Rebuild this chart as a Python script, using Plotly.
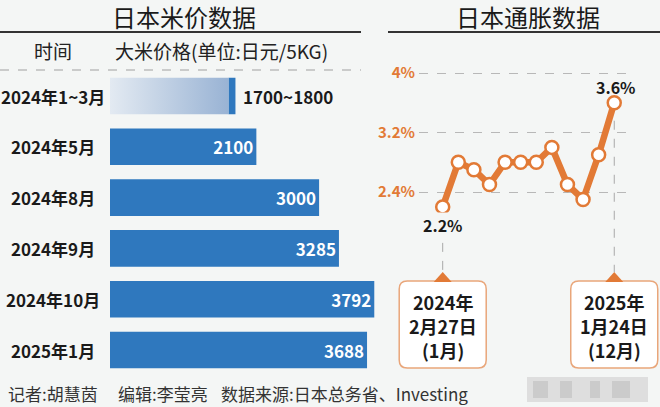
import plotly.graph_objects as go

# ---------------- data ----------------
rice_periods = ["2024年1~3月", "2024年5月", "2024年8月", "2024年9月", "2024年10月", "2025年1月"]
rice_low = [1700, 2100, 3000, 3285, 3792, 3688]
rice_high = [1800, 2100, 3000, 3285, 3792, 3688]

cpi_months = ["2024-01", "2024-02", "2024-03", "2024-04", "2024-05", "2024-06",
              "2024-07", "2024-08", "2024-09", "2024-10", "2024-11", "2024-12"]
cpi_values = [2.2, 2.8, 2.7, 2.5, 2.8, 2.8, 2.8, 3.0, 2.5, 2.3, 2.9, 3.6]
cpi_tickvals = [2.4, 3.2, 4.0]
cpi_ticktext = ["2.4%", "3.2%", "4%"]
callout_index = [0, 11]
callout_year = ["2024年", "2025年"]
callout_date = ["2月27日", "1月24日"]
callout_month = ["(1月)", "(12月)"]

left_title = "日本米价数据"
right_title = "日本通胀数据"
col_time = "时间"
col_price = "大米价格(单位:日元/5KG)"
footer_parts = ["记者:胡慧茵", "编辑:李莹亮", "数据来源:日本总务省、Investing"]

# ---------------- styling ----------------
W, H = 660, 407
BG = "#F4F6F5"
BLUE = "#2F78BE"
ORANGE = "#E27A36"
FONT = "Noto Sans CJK SC"
TXT = "#1A1A1A"


def X(px):
    return px / W


def Y(py):
    return 1 - py / H


# left panel geometry
BAR_X0, BAR_X1 = 110, 380
BAR_RANGE_MAX = 3874
ROW_TOP, ROW_BOT = 70.6, 375.4
BAR_W = 0.72

# right panel geometry
R_X0, R_X1 = 419, 630
R_XRANGE = [-1.52, 12.01]
R_Y_TOP, R_Y_BOT = 60, 272
R_YRANGE = [1.3247, 4.1747]


def rx_px(i):
    return R_X0 + (i - R_XRANGE[0]) * (R_X1 - R_X0) / (R_XRANGE[1] - R_XRANGE[0])


fig = go.Figure()

rows = list(range(len(rice_periods)))
single_rows = [i for i in rows if rice_low[i] == rice_high[i]]
range_rows = [i for i in rows if rice_low[i] != rice_high[i]]

# gradient part of range rows
for i in range_rows:
    h = BAR_W / 2
    fig.add_trace(go.Scatter(
        x=[0, rice_low[i], rice_low[i], 0, 0],
        y=[i - h, i - h, i + h, i + h, i - h],
        mode="lines", line=dict(width=0), fill="toself",
        fillgradient=dict(type="horizontal",
                          colorscale=[[0, "#E3EAF2"], [1, "#99B3D4"]]),
        hoverinfo="skip", showlegend=False, xaxis="x", yaxis="y"))

# solid part of range rows
fig.add_trace(go.Bar(
    y=range_rows,
    x=[rice_high[i] - rice_low[i] for i in range_rows],
    base=[rice_low[i] for i in range_rows],
    orientation="h", width=BAR_W, marker=dict(color=BLUE, line=dict(width=0)),
    hoverinfo="skip", showlegend=False, xaxis="x", yaxis="y"))

# single value bars
fig.add_trace(go.Bar(
    y=single_rows,
    x=[rice_high[i] for i in single_rows],
    orientation="h", width=BAR_W, marker=dict(color=BLUE, line=dict(width=0)),
    text=[str(rice_high[i]) for i in single_rows],
    textposition="inside", insidetextanchor="end",
    textfont=dict(family=FONT, size=17, color="white", weight="bold"),
    hoverinfo="skip", showlegend=False, xaxis="x", yaxis="y"))

# CPI line
fig.add_trace(go.Scatter(
    x=cpi_months, y=cpi_values, mode="lines+markers",
    line=dict(color=ORANGE, width=6.5),
    marker=dict(size=13, color="white", line=dict(color=ORANGE, width=2.5)),
    hoverinfo="skip", showlegend=False, xaxis="x2", yaxis="y2", cliponaxis=False))

annotations = []
shapes = []

# row labels (centered)
for i, lab in enumerate(rice_periods):
    annotations.append(dict(x=X(53), xref="paper", y=i, yref="y", text=lab,
                            showarrow=False, xanchor="center", yanchor="middle",
                            font=dict(family=FONT, size=17, color=TXT, weight="bold")))
# range labels
for i in range_rows:
    annotations.append(dict(x=rice_high[i], xref="x", y=i, yref="y",
                            text=f"{rice_low[i]}~{rice_high[i]}", showarrow=False,
                            xanchor="left", yanchor="middle", xshift=6,
                            font=dict(family=FONT, size=17, color=TXT, weight="bold")))

# titles and headers
annotations += [
    dict(x=X(184), y=Y(17), xref="paper", yref="paper", text=left_title, showarrow=False,
         xanchor="center", yanchor="middle", font=dict(family=FONT, size=24, color=TXT)),
    dict(x=X(528), y=Y(17), xref="paper", yref="paper", text=right_title, showarrow=False,
         xanchor="center", yanchor="middle", font=dict(family=FONT, size=24, color=TXT)),
    dict(x=X(53), y=Y(50), xref="paper", yref="paper", text=col_time, showarrow=False,
         xanchor="center", yanchor="middle", font=dict(family=FONT, size=19, color="#222")),
    dict(x=X(113), y=Y(50), xref="paper", yref="paper", text=col_price, showarrow=False,
         xanchor="left", yanchor="middle", font=dict(family=FONT, size=19, color="#222")),
]
for xp, t in zip([6, 116, 219], footer_parts):
    annotations.append(dict(x=X(xp), y=Y(393), xref="paper", yref="paper", text=t,
                            showarrow=False, xanchor="left", yanchor="middle",
                            font=dict(family=FONT, size=17, color="#333")))

# CPI value labels for first and last
annotations.append(dict(x=cpi_months[0], y=cpi_values[0], xref="x2", yref="y2",
                        text=f"{cpi_values[0]}%", showarrow=False, yshift=-18,
                        xanchor="center", yanchor="middle", bgcolor=BG, borderpad=0,
                        font=dict(family=FONT, size=16, color=TXT, weight="bold")))
annotations.append(dict(x=cpi_months[-1], y=cpi_values[-1], xref="x2", yref="y2",
                        text=f"{cpi_values[-1]}%", showarrow=False, yshift=16, xshift=2,
                        xanchor="center", yanchor="middle",
                        font=dict(family=FONT, size=16, color=TXT, weight="bold")))

# header lines
shapes += [
    dict(type="line", xref="paper", yref="paper", x0=X(0), x1=X(361), y0=Y(32), y1=Y(32),
         line=dict(color="#333", width=2)),
    dict(type="line", xref="paper", yref="paper", x0=X(388), x1=X(660), y0=Y(32), y1=Y(32),
         line=dict(color="#333", width=2)),
    dict(type="line", xref="paper", yref="paper", x0=X(0), x1=X(361), y0=Y(70), y1=Y(70),
         line=dict(color="#A0A0A0", width=1, dash="dash")),
]


def rounded_rect(x0, y0, x1, y1, r):
    # pixel coords -> paper path
    pts = (f"M {X(x0 + r)},{Y(y0)} L {X(x1 - r)},{Y(y0)} "
           f"Q {X(x1)},{Y(y0)} {X(x1)},{Y(y0 + r)} L {X(x1)},{Y(y1 - r)} "
           f"Q {X(x1)},{Y(y1)} {X(x1 - r)},{Y(y1)} L {X(x0 + r)},{Y(y1)} "
           f"Q {X(x0)},{Y(y1)} {X(x0)},{Y(y1 - r)} L {X(x0)},{Y(y0 + r)} "
           f"Q {X(x0)},{Y(y0)} {X(x0 + r)},{Y(y0)} Z")
    return pts


# callouts
for k, idx in enumerate(callout_index):
    cx = rx_px(idx)
    shapes.append(dict(type="line", xref="x2", yref="y2",
                       x0=cpi_months[idx], x1=cpi_months[idx],
                       y0=cpi_values[idx], y1=R_YRANGE[0],
                       line=dict(color="#A8A8A8", width=1, dash="dash"), layer="below"))
    shapes.append(dict(type="path", xref="paper", yref="paper",
                       path=rounded_rect(cx - 43.5, 281, cx + 43.5, 368, 8),
                       fillcolor="white", line=dict(color="#E9A67A", width=1.5)))
    shapes.append(dict(type="path", xref="paper", yref="paper",
                       path=f"M {X(cx - 9)},{Y(282)} L {X(cx)},{Y(272)} L {X(cx + 9)},{Y(282)} Z",
                       fillcolor=ORANGE, line=dict(width=0)))
    for py, line_txt in zip([302, 326, 350],
                            [callout_year[k], callout_date[k], callout_month[k]]):
        annotations.append(dict(x=X(cx), y=Y(py), xref="paper", yref="paper", text=line_txt,
                                showarrow=False, xanchor="center", yanchor="middle",
                                font=dict(family=FONT, size=18, color=TXT, weight="bold")))

# blurred watermark block
shapes.append(dict(type="rect", xref="paper", yref="paper", x0=X(527), x1=X(648),
                   y0=Y(377), y1=Y(402), fillcolor="#D9D9D9", line=dict(width=0),
                   opacity=0.85))
for a, b in [(533, 548), (560, 572), (590, 600), (612, 630)]:
    shapes.append(dict(type="rect", xref="paper", yref="paper", x0=X(a), x1=X(b),
                       y0=Y(381), y1=Y(398), fillcolor="#C6C6C6", line=dict(width=0),
                       opacity=0.8))

fig.update_layout(
    width=W, height=H, margin=dict(l=0, r=0, t=0, b=0),
    paper_bgcolor=BG, plot_bgcolor=BG,
    barmode="overlay", showlegend=False,
    font=dict(family=FONT),
    xaxis=dict(domain=[X(BAR_X0), X(BAR_X1)], range=[0, BAR_RANGE_MAX], visible=False,
               anchor="y"),
    yaxis=dict(domain=[Y(ROW_BOT), Y(ROW_TOP)], range=[len(rice_periods) - 0.5, -0.5],
               visible=False, anchor="x"),
    xaxis2=dict(domain=[X(R_X0), X(R_X1)], range=R_XRANGE, visible=False, anchor="y2",
                type="category", categoryorder="array", categoryarray=cpi_months),
    yaxis2=dict(domain=[Y(R_Y_BOT), Y(R_Y_TOP)], range=R_YRANGE, anchor="x2",
                tickvals=cpi_tickvals, ticktext=cpi_ticktext, showgrid=True,
                gridcolor="#B8B8B8", griddash="dash", gridwidth=1, zeroline=False,
                showline=False, ticks="", ticklabelstandoff=3,
                tickfont=dict(family=FONT, size=15, color=ORANGE, weight="bold")),
    annotations=annotations, shapes=shapes,
)

fig.write_html("out.html", config={"displayModeBar": False},
               post_script="document.body.style.margin='0';document.body.style.overflow='hidden';")
